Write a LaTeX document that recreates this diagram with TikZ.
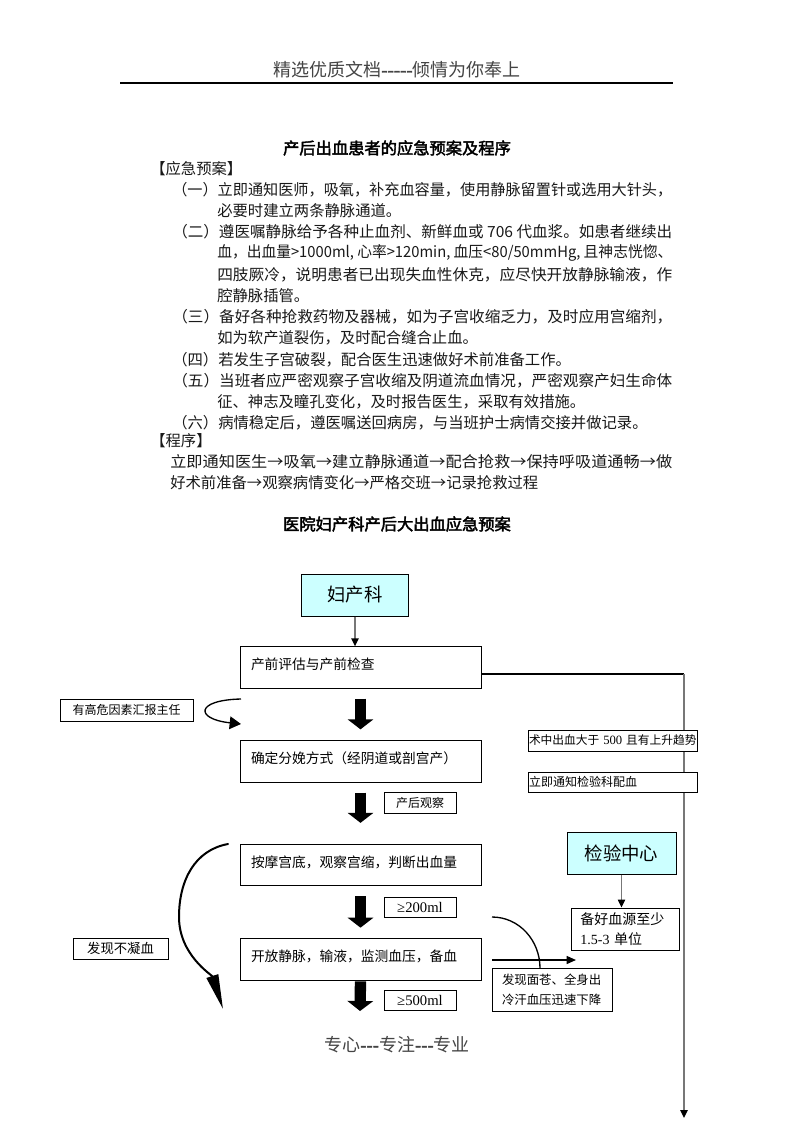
\documentclass[tikz,border=0pt]{standalone}
\usepackage{fontspec}
\setmainfont{Noto Sans CJK SC}
\newfontfamily\cjkbold[FakeBold=2.5]{Noto Sans CJK SC}
\newfontfamily\tnr{Liberation Serif}
\usetikzlibrary{arrows.meta}
\definecolor{cyanfill}{HTML}{CCFFFF}
\definecolor{hdrgray}{HTML}{444444}
\definecolor{linegray}{HTML}{777777}
\newcommand\jline[2]{\resizebox{#1}{\height}{#2}}
\begin{document}
\begin{tikzpicture}[x=0.75pt,y=-0.75pt,
  every node/.style={inner sep=0pt},
  tl/.style={anchor=west, font=\fontsize{11.5}{13}\selectfont, text=black!90},
  ttl/.style={font=\cjkbold\fontsize{12.2}{14}\selectfont},
  hdr/.style={font=\fontsize{13.5}{15}\selectfont, text=hdrgray},
  mainbox/.style={draw, fill=white, line width=0.75pt, inner xsep=8.25pt, text width=164.25pt,
     minimum height=31pt, align=left, font=\fontsize{10.3}{12}\selectfont, text height=9pt, text depth=6pt},
  smallbox/.style={draw, fill=white, line width=0.75pt, align=center, font=\fontsize{9}{11}\selectfont},
  leftbox/.style={draw, fill=white, line width=0.75pt, align=left, font=\fontsize{9}{11}\selectfont},
  deptbox/.style={draw, fill=cyanfill, line width=0.75pt, minimum width=80.25pt, minimum height=31.5pt,
     font=\fontsize{13.8}{16}\selectfont},
  blockarr/.style={line width=8.5pt, line cap=butt, -{Triangle[length=7.5pt,width=19pt]}},
  thinarr/.style={draw=linegray, line width=1pt, -{Triangle[length=6pt,width=5.5pt,black]}},
  curvearr/.style={line width=1.5pt, line cap=round}
]
\useasboundingbox[fill=white] (0,0) rectangle (793,1122);

% header
\node[hdr] (hdr) at (397,70) {精选优质文档{\cjkbold -----}倾情为你奉上};
\coordinate (hl) at (120,83);
\coordinate (hr) at (673,83);
\draw[line width=0.9pt] (hl) -- (hr);

% title and plan text
\node[ttl] (t1) at (397,148) {产后出血患者的应急预案及程序};
\node[tl] (plan) at (150,169) {【应急预案】};
\node[tl] (a1) at (172,190) {\jline{375pt}{（一）立即通知医师，吸氧，补充血容量，使用静脉留置针或选用大针头，}};
\node[tl] (a2) at (217,211) {必要时建立两条静脉通道。};
\node[tl] (b1) at (172,232) {\jline{375pt}{（二）遵医嘱静脉给予各种止血剂、新鲜血或 706 代血浆。如患者继续出}};
\node[tl] (b2) at (217,253) {\jline{341.25pt}{血，出血量>1000ml, 心率>120min, 血压<80/50mmHg, 且神志恍惚、}};
\node[tl] (b3) at (217,275) {\jline{341.25pt}{四肢厥冷，说明患者已出现失血性休克，应尽快开放静脉输液，作}};
\node[tl] (b4) at (217,296) {腔静脉插管。};
\node[tl] (c1) at (172,317) {\jline{375pt}{（三）备好各种抢救药物及器械，如为子宫收缩乏力，及时应用宫缩剂，}};
\node[tl] (c2) at (217,338) {如为软产道裂伤，及时配合缝合止血。};
\node[tl] (d1) at (172,360) {（四）若发生子宫破裂，配合医生迅速做好术前准备工作。};
\node[tl] (e1) at (172,381) {\jline{375pt}{（五）当班者应严密观察子宫收缩及阴道流血情况，严密观察产妇生命体}};
\node[tl] (e2) at (217,402) {征、神志及瞳孔变化，及时报告医生，采取有效措施。};
\node[tl] (f1) at (172,423) {（六）病情稳定后，遵医嘱送回病房，与当班护士病情交接并做记录。};
\node[tl] (prog) at (150,441) {【程序】};
\node[tl] (p1) at (170,462) {\jline{376.5pt}{立即通知医生→吸氧→建立静脉通道→配合抢救→保持呼吸道通畅→做}};
\node[tl] (p2) at (170,483) {好术前准备→观察病情变化→严格交班→记录抢救过程};
\node[ttl] (t2) at (397,524) {医院妇产科产后大出血应急预案};

% long right line (drawn first, behind boxes)
\coordinate (ls) at (455,674);
\coordinate (lc) at (684,674);
\coordinate (le) at (684,1118);
\draw[line width=0.9pt] (ls) -- (lc);
\draw[draw=linegray, line width=1.1pt, -{Triangle[length=6pt,width=5.5pt,black]}] (lc) -- (le);

% arc behind boxes
\coordinate (arcS) at (492,917);
\coordinate (arcE) at (540,968);
\draw[line width=1pt] (arcS) to[out=0,in=90] (arcE);

% flowchart boxes
\node[deptbox] (fck) at (355,595) {妇产科};
\node[mainbox] (pre) at (360.5,667.5) {产前评估与产前检查};
\node[mainbox] (fenm) at (360.5,761.5) {确定分娩方式（经阴道或剖宫产）};
\node[mainbox] (anmo) at (360.5,865) {按摩宫底，观察宫缩，判断出血量};
\node[mainbox, minimum height=32pt] (kaif) at (360.5,959.5) {开放静脉，输液，监测血压，备血};

\node[smallbox, minimum width=99.75pt, minimum height=16.5pt] (gaow) at (126.5,710) {有高危因素汇报主任};
\node[smallbox, minimum width=54pt, minimum height=15.75pt] (chh) at (420,802.5) {产后观察};
\node[smallbox, minimum width=54pt, minimum height=14.5pt, font=\tnr\fontsize{11}{12}\selectfont] (g200) at (420,907.5) {≥200ml};
\node[smallbox, minimum width=54pt, minimum height=15pt, font=\tnr\fontsize{11}{12}\selectfont] (g500) at (420,1000) {≥500ml};
\node[smallbox, minimum width=71.25pt, minimum height=15.75pt, font=\fontsize{10}{12}\selectfont] (bun) at (120.5,948.5) {发现不凝血};

\node[leftbox, inner xsep=0.75pt, text width=125.25pt, minimum height=15.75pt, font=\fontsize{8.8}{11}\selectfont] (shz) at (612.5,740.5) {\mbox{术中出血大于{\tnr\fontsize{9.5}{11}\selectfont\ 500 }且有上升趋势}};
\node[leftbox, inner xsep=0.75pt, text width=125.25pt, minimum height=15pt] (tzh) at (612.5,782) {立即通知检验科配血};

\node[deptbox, minimum width=81.75pt] (jyzx) at (621.5,853) {检验中心};
\node[leftbox, inner xsep=7pt, text width=67pt, minimum height=31.5pt, font=\fontsize{10.5}{15}\selectfont] (bhx) at (625,929) {备好血源至少\\{\tnr 1.5-3} 单位};
\node[leftbox, inner xsep=7.5pt, text width=75pt, minimum height=32.25pt, font=\fontsize{9.3}{15}\selectfont] (fxm) at (552,989.5) {发现面苍、全身出\\冷汗血压迅速下降};

% thin arrows
\draw[thinarr] (fck.south) -- (fck.south |- pre.north);
\draw[thinarr] (jyzx.south) -- (jyzx.south |- bhx.north);

% block arrows
\coordinate (kend) at (360,1011);
\draw[blockarr, shorten <=7.5pt, shorten >=8.25pt] (pre.south) -- (fenm.north);
\draw[blockarr, shorten <=7.5pt, shorten >=15.75pt] (fenm.south) -- (anmo.north);
\draw[blockarr, shorten <=7.5pt, shorten >=7.5pt] (anmo.south) -- (kaif.north);
\draw[blockarr] (kaif.south) -- (kend);

% horizontal arrow toward blood centre
\coordinate (hs) at (492,960);
\coordinate (he) at (576,960);
\draw[line width=1pt, -{Triangle[length=7pt,width=6pt]}] (hs) -- (he);

% small curved arrow (high risk)
\coordinate (s1) at (241,699);
\coordinate (s2) at (241,724);
\draw[line width=1pt, -{Triangle[length=8.5pt,width=9.5pt]}] (s1) .. controls (195,700) and (195,719) .. (s2);

% big curved arrow (non-clotting)
\coordinate (b1s) at (228,844);
\coordinate (b1m) at (179,917);
\coordinate (b1e) at (223,1009);
\draw[curvearr, -{Triangle[length=26pt,width=9pt]}] (b1s) .. controls (195,850) and (179,880) .. (b1m) .. controls (179,955) and (212,975) .. (b1e);

% footer
\node[hdr] (ftr) at (397,1045) {专心{\cjkbold ---}专注{\cjkbold ---}专业};
\end{tikzpicture}
\end{document}
